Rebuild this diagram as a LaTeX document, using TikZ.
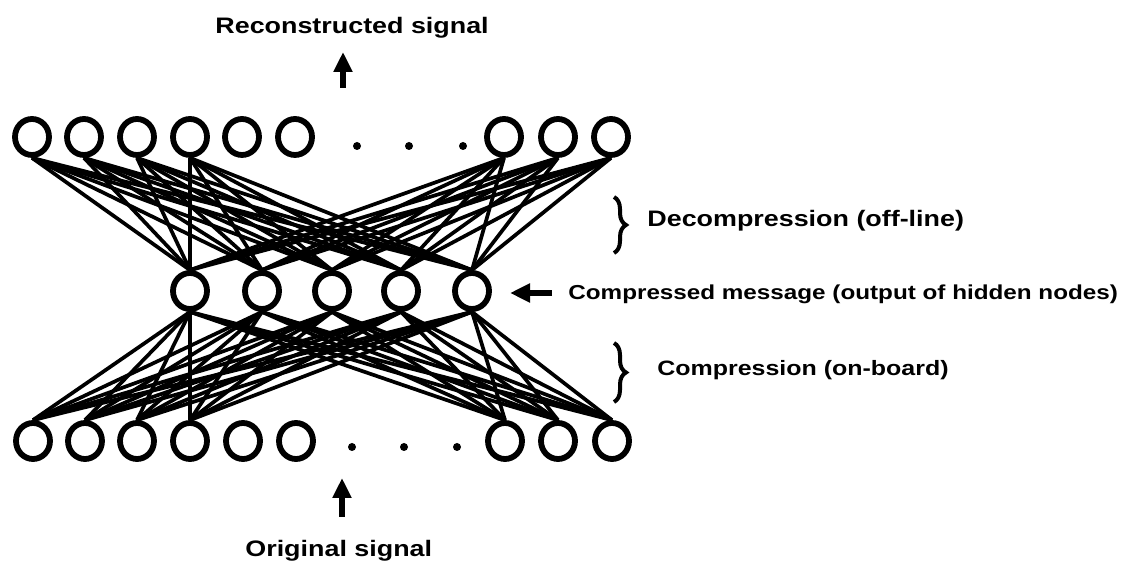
\documentclass[tikz,border=0pt]{standalone}
\usepackage{fontspec}
\setmainfont{Liberation Sans}[FakeStretch=1.2]
\usetikzlibrary{arrows.meta,decorations.pathreplacing,shapes.geometric}

\begin{document}
\begin{tikzpicture}[x=0.5pt,y=-0.5pt,
  unit/.style={draw, ellipse, line width=2.9pt, inner sep=0pt,
               minimum width=17pt, minimum height=18pt},
  link/.style={line width=1.85pt},
  bigarrow/.style={line width=3pt, -{Triangle[length=10pt,width=9pt]}},
  lbl/.style={font=\fontsize{11.2}{13}\selectfont\bfseries, inner sep=0pt, anchor=base west},
  midlbl/.style={font=\fontsize{10.4}{12}\selectfont\bfseries, inner sep=0pt, anchor=base west},
  smalllbl/.style={font=\fontsize{10.1}{12}\selectfont\bfseries, inner sep=0pt, anchor=base west},
  curly/.style={line width=2pt, decorate, decoration={brace, amplitude=6pt}},
  dot/.style={fill=black}
]
\useasboundingbox (0,0) rectangle (1129,565);

% output layer
\foreach \i/\x in {1/32,2/84,3/137,4/190,5/242,6/295,7/504,8/558,9/611}
  \node[unit] (t\i) at (\x,137) {};
% hidden layer
\foreach \i/\x in {1/190,2/262,3/332,4/401,5/472}
  \node[unit] (h\i) at (\x,291) {};
% input layer
\foreach \i/\x in {1/33,2/85,3/137,4/190,5/243,6/296,7/505,8/558,9/612}
  \node[unit] (b\i) at (\x,441) {};

% ellipsis dots
\foreach \x in {357,409,463} \fill[dot] (\x,146) circle (2pt);
\foreach \x in {352,404,457} \fill[dot] (\x,447) circle (2pt);

% connections
\foreach \i in {1,2,3,4,7,8,9}
  \foreach \j in {1,...,5} {
    \draw[link] (t\i.south) -- (h\j.north);
    \draw[link] (b\i.north) -- (h\j.south);
  }

% labels
\node[lbl] (rec) at (215,34) {Reconstructed signal};
\node[lbl] (orig) at (245,557) {Original signal};
\node[lbl] (dec) at (647,227) {Decompression (off-line)};
\node[midlbl] (com) at (657,376) {Compression (on-board)};
\node[smalllbl] (msg) at (568,300) {Compressed message (output of hidden nodes)};

% arrows
\coordinate (recfoot) at (343,88);
\coordinate (rectip) at (343,52);
\draw[bigarrow] (recfoot) -- (rectip);
\coordinate (origfoot) at (342,517);
\coordinate (origtip) at (342,478);
\draw[bigarrow] (origfoot) -- (origtip);
\coordinate (msgfoot) at (552,293);
\coordinate (msgtip) at (510,293);
\draw[bigarrow] (msgfoot) -- (msgtip);

% braces
\coordinate (d1) at (614,197);
\coordinate (d2) at (614,253);
\draw[curly] (d1) -- (d2);
\coordinate (c1) at (614,343);
\coordinate (c2) at (614,402);
\draw[curly] (c1) -- (c2);
\end{tikzpicture}
\end{document}
